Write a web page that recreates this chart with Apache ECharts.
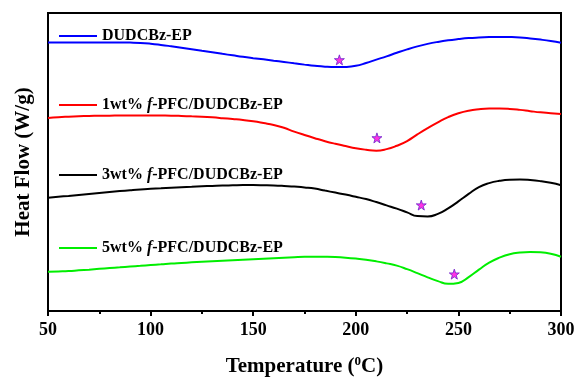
<!DOCTYPE html>
<html>
<head>
<meta charset="utf-8">
<script src="https://cdn.jsdelivr.net/npm/echarts@6/dist/echarts.min.js"></script>
<style>html,body{margin:0;padding:0;background:#fff}#c{width:578px;height:382px}</style>
</head>
<body>
<div id="c"></div>
<script>
// Temperature ticks
var xTicks = [50, 100, 150, 200, 250, 300];
var seriesNames = ['DUDCBz-EP', '1wt% f-PFC/DUDCBz-EP', '3wt% f-PFC/DUDCBz-EP', '5wt% f-PFC/DUDCBz-EP'];
// sample temperatures (deg C), every 5 degrees from 50 to 300
var temps = [50,55,60,65,70,75,80,85,90,95,100,105,110,115,120,125,130,135,140,145,150,155,160,165,170,175,180,185,190,195,200,205,210,215,220,225,230,235,240,245,250,255,260,265,270,275,280,285,290,295,300];
// heat flow (arbitrary units, curves offset vertically)
var blueV  = [269.3,269.4,269.4,269.5,269.5,269.5,269.5,269.4,269.3,269.0,268.2,267.0,265.6,264.1,262.6,261.1,259.6,258.0,256.5,255.0,253.7,252.5,251.2,249.9,248.5,247.2,246.0,245.1,244.7,244.9,246.0,248.8,252.2,255.5,259.1,262.5,265.5,268.0,270.0,271.6,272.8,273.8,274.4,274.8,275.0,274.9,274.5,273.5,272.3,270.9,269.2];
var redV   = [193.7,194.5,195.0,195.4,195.7,195.9,196.0,196.1,196.2,196.2,196.2,196.1,196.0,195.7,195.3,194.9,194.3,193.5,192.6,191.6,190.3,188.6,186.7,183.8,180.0,176.6,173.4,170.4,167.8,165.5,163.3,161.8,160.9,162.4,165.8,170.5,177.2,183.5,189.3,194.5,198.4,201.0,202.4,203.1,203.2,202.8,201.8,200.5,199.3,198.5,197.6];
var blackV = [113.7,114.6,115.5,116.5,117.5,118.5,119.4,120.3,121.2,122.0,122.6,123.1,123.6,124.1,124.6,125.1,125.5,125.9,126.1,126.3,126.3,126.2,126.0,125.5,124.8,124.0,122.9,120.8,118.8,116.8,114.6,112.3,109.3,106.0,102.7,99.0,95.2,94.8,97.5,103.0,110.0,117.5,124.3,128.3,130.6,131.7,131.9,131.4,130.3,128.6,126.2];
var greenV = [39.3,39.7,40.1,40.8,41.5,42.3,43.1,43.8,44.6,45.3,46.1,46.8,47.6,48.2,48.8,49.4,50.0,50.5,51.0,51.5,52.0,52.5,53.0,53.5,54.0,54.4,54.5,54.4,54.1,53.5,52.6,51.4,49.8,47.8,45.5,42.0,38.0,33.8,30.0,27.3,28.2,34.0,41.5,48.5,53.5,57.0,58.7,59.3,58.9,57.4,54.5];
// peak markers (stars): temperatures and heights
var starT = [192.0, 210.3, 231.9, 248.0];
var starV = [252, 173.7, 106.3, 37];
var colors = ['#0000ff', '#ff0000', '#000000', '#00ee00'];
var legendY = [31, 100, 170, 243];

var FONT = '"Liberation Serif", "Times New Roman", serif';
var chart = echarts.init(document.getElementById('c'), null, {renderer: 'canvas'});
var values = [blueV, redV, blackV, greenV];
function pairs(xs, ys) { return xs.map(function (x, i) { return [x, ys[i]]; }); }

var legends = seriesNames.map(function (n, i) {
  return {
    data: [{name: n, icon: 'rect', itemStyle: {color: colors[i]}}],
    left: 54,
    top: legendY[i] - 8,
    itemWidth: 38,
    itemHeight: 2,
    itemGap: 0,
    selectedMode: false,
    formatter: function (name) {
      var idx = name.indexOf(' f-');
      if (idx < 0) return '{b|' + name + '}';
      return '{b|' + name.slice(0, idx + 1) + '}{i|f}{b|' + name.slice(idx + 2) + '}';
    },
    textStyle: {
      fontFamily: FONT, fontWeight: 'bold', fontSize: 16, color: '#000', lineHeight: 16,
      rich: {
        b: {fontFamily: FONT, fontWeight: 'bold', fontSize: 16, color: '#000', lineHeight: 16},
        i: {fontFamily: FONT, fontWeight: 'bold', fontStyle: 'italic', fontSize: 16, color: '#000', lineHeight: 16}
      }
    }
  };
});

var series = values.map(function (v, i) {
  return {
    name: seriesNames[i], type: 'line', data: pairs(temps, v), smooth: 0.5,
    symbol: 'none', lineStyle: {color: colors[i], width: 2}, itemStyle: {color: colors[i]},
    animation: false, z: 2
  };
});
series.push({
  name: 'peaks', type: 'scatter', data: pairs(starT, starV),
  symbol: 'path://M50,0 L61.8,35.1 L97.6,34.5 L69.1,56.6 L79.4,90.5 L50,70 L20.6,90.5 L30.9,56.6 L2.4,34.5 L38.2,35.1 Z',
  symbolSize: 10,
  itemStyle: {color: '#ff00dd', borderColor: '#6a22cc', borderWidth: 1},
  animation: false, z: 3
});

chart.setOption({
  backgroundColor: '#fff',
  animation: false,
  grid: {left: 48, right: 17, top: 13, bottom: 70, show: true, borderColor: '#000', borderWidth: 2, backgroundColor: 'transparent'},
  legend: legends,
  xAxis: {
    type: 'value', min: 50, max: 300, interval: 50,
    name: 'Temperature ({s|0}C)', nameLocation: 'middle', nameGap: 44,
    nameTextStyle: {fontFamily: FONT, fontWeight: 'bold', fontSize: 21, color: '#000',
      rich: {s: {fontFamily: FONT, fontWeight: 'bold', fontSize: 13, verticalAlign: 'top', padding: [0,0,10,0], color: '#000'}}},
    axisLine: {show: true, lineStyle: {color: '#000', width: 2}},
    axisTick: {show: true, length: 5, lineStyle: {color: '#000', width: 2}},
    minorTick: {show: true, splitNumber: 2, length: 3, lineStyle: {color: '#000', width: 2}},
    splitLine: {show: false},
    axisLabel: {fontFamily: FONT, fontWeight: 'bold', fontSize: 18, color: '#000', margin: 10,
      formatter: function (v) { return xTicks.indexOf(v) >= 0 ? String(v) : ''; }}
  },
  yAxis: {
    type: 'value', min: 0, max: 299,
    name: 'Heat Flow (W/g)', nameLocation: 'middle', nameGap: 14,
    nameTextStyle: {fontFamily: FONT, fontWeight: 'bold', fontSize: 21, color: '#000'},
    axisLine: {show: true, lineStyle: {color: '#000', width: 2}},
    axisTick: {show: false}, axisLabel: {show: false}, splitLine: {show: false}
  },
  series: series
});
</script>
</body>
</html>
